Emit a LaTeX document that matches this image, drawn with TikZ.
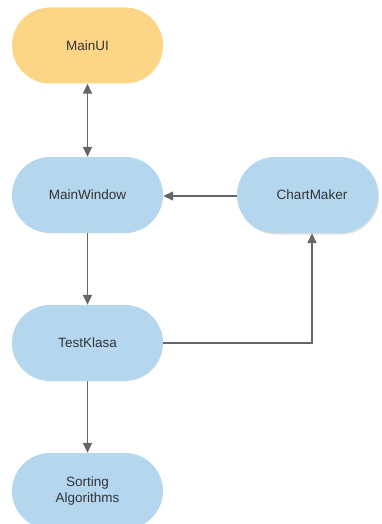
\documentclass[tikz,border=0pt]{standalone}
\usepackage{fontspec}
\setmainfont{Liberation Sans}
\usetikzlibrary{arrows.meta,shadows,calc}
\definecolor{orangefill}{HTML}{FCD587}
\definecolor{bluefill}{HTML}{B4D7EF}
\definecolor{txt}{HTML}{333333}
\definecolor{edge}{HTML}{666666}
\begin{document}
\begin{tikzpicture}[x=1pt,y=1pt,
  pill/.style={rectangle, rounded corners=38pt, minimum width=151pt, minimum height=76pt,
    inner sep=0pt, draw=none, text=txt, font=\fontsize{13.5}{16}\selectfont, align=center},
  bluepill/.style={pill, fill=bluefill},
  orangepill/.style={pill, fill=orangefill},
  conn/.style={draw=edge, line width=1.5pt, -{Triangle[length=10pt,width=9pt]}},
  biconn/.style={draw=edge, line width=1.5pt, {Triangle[length=10pt,width=9pt]}-{Triangle[length=10pt,width=9pt]}}
]
\useasboundingbox (0,0) rectangle (381,-524);
\begin{scope}
\clip (0,0) rectangle (381,-524);
\node[orangepill] (mainui) at (87.5,-45.5) {MainUI};
\node[bluepill] (mainwindow) at (87.5,-195) {MainWindow};
\node[bluepill, minimum width=141pt, drop shadow={opacity=0.25, shadow xshift=1pt, shadow yshift=-1.5pt}] (chartmaker) at (307.5,-195) {\hspace*{9pt}ChartMaker};
\node[bluepill] (testklasa) at (87.5,-343) {TestKlasa};
\node[bluepill] (sorting) at (87.5,-491) {Sorting\\Algorithms};
\end{scope}
\draw[biconn] (mainui) -- (mainwindow);
\draw[conn] (mainwindow) -- (testklasa);
\draw[conn] (testklasa) -- (sorting);
\draw[conn] (chartmaker.west |- 0,-196) -- (mainwindow.east |- 0,-196);
\draw[conn] (testklasa.east) -| ([xshift=4.5pt]chartmaker.south);
\end{tikzpicture}
\end{document}
